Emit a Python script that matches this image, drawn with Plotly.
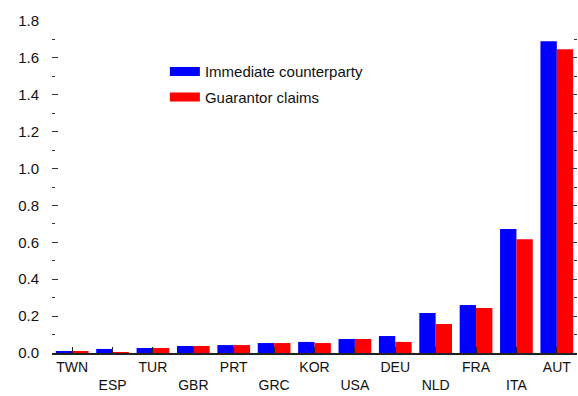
import plotly.graph_objects as go

countries = ["TWN", "ESP", "TUR", "GBR", "PRT", "GRC", "KOR", "USA", "DEU", "NLD", "FRA", "ITA", "AUT"]
immediate = [0.011, 0.022, 0.027, 0.038, 0.043, 0.054, 0.060, 0.076, 0.092, 0.217, 0.260, 0.672, 1.690]
guarantor = [0.011, 0.005, 0.027, 0.038, 0.043, 0.054, 0.054, 0.076, 0.060, 0.157, 0.244, 0.617, 1.647]
tick_labels = [c if i % 2 == 0 else "<br>" + c for i, c in enumerate(countries)]
y_ticks = [0.0, 0.2, 0.4, 0.6, 0.8, 1.0, 1.2, 1.4, 1.6, 1.8]

BLUE = "#0000FF"
RED = "#FF0000"

fig = go.Figure()
fig.add_trace(go.Bar(x=countries, y=immediate, marker=dict(color=BLUE, line=dict(width=0)),
                     showlegend=False, name="Immediate counterparty"))
fig.add_trace(go.Bar(x=countries, y=guarantor, marker=dict(color=RED, line=dict(width=0)),
                     showlegend=False, name="Guarantor claims"))
# legend entries drawn as thick lines (wide swatches)
fig.add_trace(go.Scatter(x=[None], y=[None], mode="lines", line=dict(color=BLUE, width=9),
                         name="Immediate counterparty", legendgroup="a"))
fig.add_trace(go.Scatter(x=[None], y=[None], mode="lines", line=dict(color=RED, width=9),
                         name="Guarantor claims", legendgroup="b"))

fig.update_layout(
    width=578, height=396,
    margin=dict(l=52, r=1, t=21, b=43),
    paper_bgcolor="white", plot_bgcolor="white",
    barmode="group", bargap=0.19, bargroupgap=0,
    font=dict(family="Liberation Sans, Arial, sans-serif", size=14, color="#111111"),
    legend=dict(x=0.215, y=0.897, xanchor="left", yanchor="top",
                bgcolor="rgba(0,0,0,0)", borderwidth=0,
                traceorder="grouped", tracegroupgap=3,
                font=dict(size=15, color="#111111")),
)
fig.update_xaxes(
    type="category", tickmode="array", tickvals=countries, ticktext=tick_labels,
    showline=True, linecolor="#222222", linewidth=2,
    ticks="inside", ticklen=6, tickcolor="#222222", tickwidth=1,
    showgrid=False, zeroline=False, tickangle=0,
    tickfont=dict(size=14),
)
fig.update_yaxes(
    range=[0, 1.8], tickmode="array", tickvals=y_ticks,
    ticktext=[f"{v:.1f}" for v in y_ticks],
    showline=False, showgrid=False, zeroline=False,
    ticks="inside", ticklen=6, tickcolor="#333333", tickwidth=1,
    mirror="ticks", ticklabelstandoff=12,
    minor=dict(tickvals=[0.1, 0.3, 0.5, 0.7, 0.9, 1.1, 1.3, 1.5, 1.7], ticks="inside",
               ticklen=3, tickcolor="#333333", tickwidth=1),
    tickfont=dict(size=15),
)

fig.write_html("out.html")
